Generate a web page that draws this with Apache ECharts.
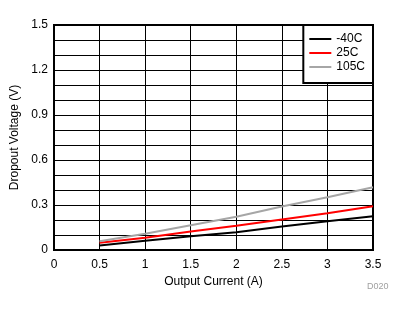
<!DOCTYPE html>
<html><head><meta charset="utf-8">
<script src="https://cdn.jsdelivr.net/npm/echarts@6/dist/echarts.min.js"></script>
<style>html,body{margin:0;padding:0;background:#fff}#c{width:406px;height:312px}</style>
</head><body><div id="c"></div>
<script>
const currents = [0.5, 1, 1.5, 2, 2.5, 3, 3.5];
const vMinus40 = [0.030, 0.061, 0.092, 0.119, 0.157, 0.192, 0.225];
const v25 = [0.048, 0.081, 0.123, 0.161, 0.203, 0.245, 0.292];
const v105 = [0.059, 0.108, 0.165, 0.222, 0.290, 0.352, 0.419];
const seriesNames = ['-40C', '25C', '105C'];
const seriesColors = ['#000000', '#ff0000', '#a6a6a6'];
const seriesValues = [vMinus40, v25, v105];

const font = 'Arial, "Liberation Sans", sans-serif';
const chart = echarts.init(document.getElementById('c'), null, {renderer: 'canvas'});
chart.setOption({
  animation: false,
  backgroundColor: '#fff',
  grid: {left: 54, right: 33, top: 25, bottom: 62, show: true, borderColor: '#000', borderWidth: 2, backgroundColor: 'transparent'},
  legend: {
    right: 33, top: 25,
    orient: 'vertical',
    backgroundColor: '#fff',
    borderColor: '#000', borderWidth: 2, borderRadius: 0,
    padding: [8, 8, 10, 6],
    itemGap: 2,
    itemWidth: 22, itemHeight: 2,
    icon: 'rect',
    textStyle: {fontFamily: font, fontSize: 12, color: '#000', padding: [0, 0, 0, 0]},
    data: seriesNames
  },
  xAxis: {
    type: 'value', min: 0, max: 3.5, interval: 0.5,
    name: 'Output Current (A)', nameLocation: 'middle', nameGap: 24,
    nameTextStyle: {fontFamily: font, fontSize: 12, color: '#000'},
    axisLine: {show: true, onZero: false, lineStyle: {color: '#000', width: 2}},
    axisTick: {show: false},
    axisLabel: {fontFamily: font, fontSize: 12, color: '#000', margin: 9,
      formatter: v => String(Number(v.toFixed(1)))},
    splitLine: {show: true, lineStyle: {color: '#000', width: 1}}
  },
  yAxis: {
    type: 'value', min: 0, max: 1.5, interval: 0.1,
    name: 'Dropout Voltage (V)', nameLocation: 'middle', nameGap: 27,
    nameTextStyle: {fontFamily: font, fontSize: 12, color: '#000'},
    axisLine: {show: true, lineStyle: {color: '#000', width: 2}},
    axisTick: {show: false},
    axisLabel: {fontFamily: font, fontSize: 12, color: '#000', margin: 6,
      formatter: v => (Math.round(v * 10) % 3 === 0 ? String(Number(v.toFixed(1))) : '')},
    splitLine: {show: true, lineStyle: {color: '#000', width: 1}}
  },
  graphic: [{type: 'text', left: 367, top: 282, style: {text: 'D020', fontFamily: font, fontSize: 9, fill: '#a0a0a0'}}],
  series: seriesNames.map((n, i) => ({
    name: n, type: 'line', showSymbol: false, symbol: 'none',
    data: currents.map((x, j) => [x, seriesValues[i][j]]),
    lineStyle: {color: seriesColors[i], width: 2},
    itemStyle: {color: seriesColors[i]}
  }))
});
</script></body></html>
